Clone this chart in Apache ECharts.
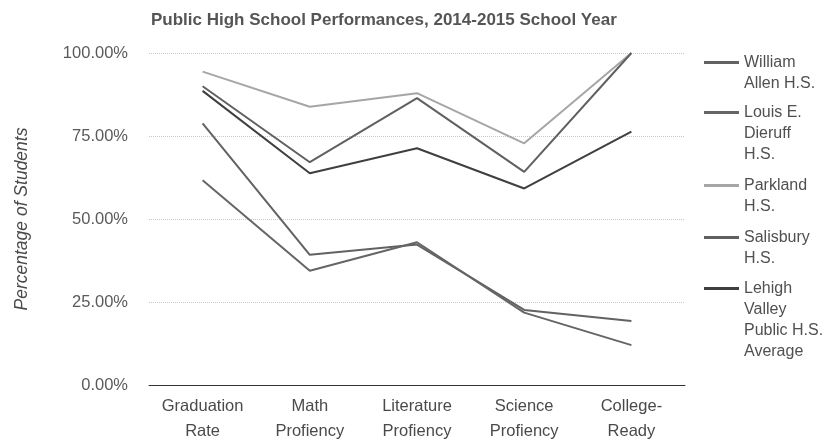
<!DOCTYPE html>
<html>
<head>
<meta charset="utf-8">
<script src="https://cdn.jsdelivr.net/npm/echarts@6/dist/echarts.min.js"></script>
<style>
  html, body { margin: 0; padding: 0; background: #fff; }
  #chart { width: 830px; height: 441px; }
</style>
</head>
<body>
<div id="chart"></div>
<script>
// Categories along the x axis
const categories = ['Graduation\nRate', 'Math\nProfiency', 'Literature\nProfiency', 'Science\nProfiency', 'College-\nReady'];

// Percent of students per school
const williamAllen = [78.8, 39.2, 42.3, 22.6, 19.3];
const louisDieruff = [61.7, 34.4, 43.0, 21.8, 12.0];
const parkland     = [94.4, 83.8, 87.9, 72.8, 100];
const salisbury    = [90.0, 67.1, 86.4, 64.2, 100];
const lvAverage    = [88.6, 63.8, 71.3, 59.2, 76.3];

// Legend labels (wrapped)
const seriesNames = ['William\nAllen H.S.', 'Louis E.\nDieruff\nH.S.', 'Parkland\nH.S.', 'Salisbury\nH.S.', 'Lehigh\nValley\nPublic H.S.\nAverage'];
const seriesData = [williamAllen, louisDieruff, parkland, salisbury, lvAverage];
const seriesColors = ['#626262', '#656565', '#a6a6a6', '#606060', '#3f3f3f'];

// Y axis ticks
const yTicks = [0, 25, 50, 75, 100];

const FONT = '"Liberation Sans", Arial, sans-serif';
const LH = 21;          // legend line height
const ICON_W = 35;      // legend swatch width
const legendTops = [52, 102, 175, 227, 278];

// Swatch spanning the full label height, with the bar level with the first line
function swatchPath(lines) {
  const h = lines * LH;
  const y0 = LH / 2 - 1.5, y1 = LH / 2 + 1.5;
  return 'path://M0,' + y0 + 'L' + ICON_W + ',' + y0 + 'L' + ICON_W + ',' + y1 + 'L0,' + y1 + 'Z' +
         'M0,0L0,0ZM' + ICON_W + ',' + h + 'L' + ICON_W + ',' + h + 'Z';
}

const legends = seriesNames.map(function (name, i) {
  const lines = name.split('\n').length;
  return {
    orient: 'vertical',
    left: 704,
    top: legendTops[i],
    padding: 0,
    itemWidth: ICON_W,
    itemHeight: lines * LH,
    symbolKeepAspect: false,
    itemStyle: { borderWidth: 0 },
    textStyle: { fontFamily: FONT, fontSize: 16, color: '#505050', lineHeight: LH },
    data: [{ name: name, icon: swatchPath(lines) }]
  };
});

const chart = echarts.init(document.getElementById('chart'), null, { renderer: 'canvas' });

chart.setOption({
  animation: false,
  backgroundColor: '#ffffff',
  title: {
    text: 'Public High School Performances, 2014-2015 School Year',
    left: 146,
    top: 7,
    textStyle: { fontFamily: FONT, fontSize: 17, fontWeight: 'bold', color: '#555' }
  },
  grid: { left: 149, right: 145, top: 53, bottom: 56, outerBoundsMode: 'none', containLabel: false },
  legend: legends,
  xAxis: {
    type: 'category',
    data: categories,
    boundaryGap: true,
    axisLine: { lineStyle: { color: '#333', width: 1 } },
    axisTick: { show: false },
    axisLabel: { interval: 0, fontFamily: FONT, fontSize: 16.5, color: '#4a4a4a', lineHeight: 25, margin: 9 }
  },
  yAxis: {
    type: 'value',
    min: yTicks[0],
    max: yTicks[yTicks.length - 1],
    interval: 25,
    name: 'Percentage of Students',
    nameLocation: 'middle',
    nameRotate: 90,
    nameGap: 118,
    nameTextStyle: { fontFamily: FONT, fontSize: 17.5, fontStyle: 'italic', color: '#4a4a4a' },
    axisLine: { show: false },
    axisTick: { show: false },
    axisLabel: {
      fontFamily: FONT, fontSize: 16.5, color: '#5a5a5a', margin: 21,
      formatter: function (v) { return v.toFixed(2) + '%'; }
    },
    splitLine: { lineStyle: { color: '#c8c8c8', type: 'dotted', width: 1 } }
  },
  series: seriesData.map(function (d, i) {
    return {
      name: seriesNames[i],
      type: 'line',
      data: d,
      symbol: 'none',
      showSymbol: false,
      color: seriesColors[i],
      lineStyle: { width: 2, color: seriesColors[i] }
    };
  })
});
</script>
</body>
</html>
